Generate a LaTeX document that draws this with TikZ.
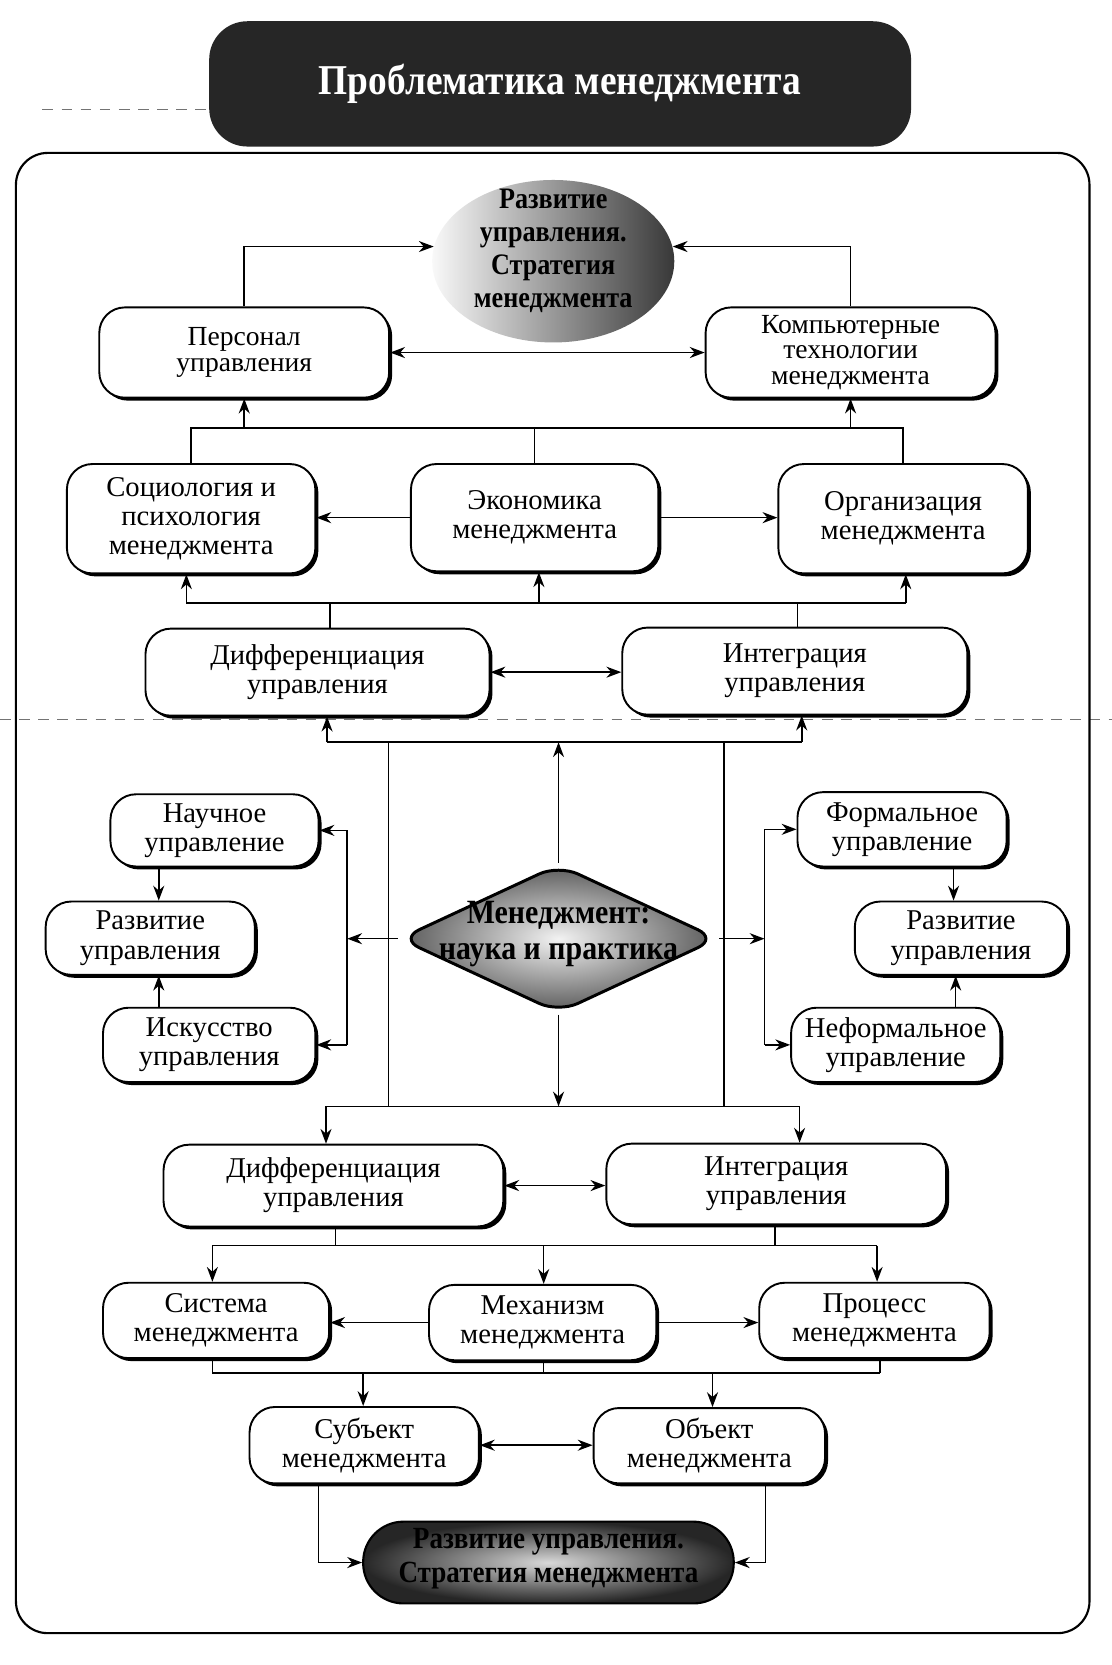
\documentclass[tikz,border=0pt]{standalone}
\usepackage{fontspec}
\setmainfont{Liberation Serif}
\newfontfamily\condfont[FakeStretch=0.88]{Liberation Serif}
\usetikzlibrary{shapes.geometric,shadows,arrows.meta,calc}
\begin{document}
\begin{tikzpicture}[x=0.5pt,y=-0.5pt,
 box/.style={draw, line width=0.9pt, rounded corners=12pt, fill=white, align=center, inner sep=0pt,
   font=\fontsize{13.5}{13.7}\selectfont,
   drop shadow={shadow xshift=1.4pt, shadow yshift=-1.4pt, fill=black, opacity=1}},
 tight/.style={font=\fontsize{13}{12.2}\selectfont},
 ln/.style={line width=0.75pt},
 arr/.style={ln, -{Stealth[length=7pt,width=5.2pt]}},
 darr/.style={ln, {Stealth[length=7pt,width=5.2pt]}-{Stealth[length=7pt,width=5.2pt]}},
 btxt/.style={align=center, inner sep=0pt},
]
\fill[white] (0,0) rectangle (1047,1568);
\useasboundingbox (0,0) rectangle (1047,1568);

% fold lines of the scan
\draw[black!55, line width=0.5pt, dash pattern=on 5pt off 4pt] (0,678) -- (1047,678);
\draw[black!55, line width=0.5pt, dash pattern=on 5pt off 4pt] (40,103) -- (195,103);

% title
\node[fill=black!85, rounded corners=18pt, minimum width=330.5pt, minimum height=59pt, inner sep=0pt,
  text=white, font=\condfont\bfseries\fontsize{20}{22}\selectfont] (title) at (527.5,79) {Проблематика менеджмента};

% frame
\node[draw, line width=1pt, rounded corners=15pt, minimum width=505.5pt, minimum height=697pt, inner sep=0pt] (frame) at (520.5,841) {};

% top ellipse
\node[ellipse, minimum width=114pt, minimum height=76.5pt, inner sep=0pt, left color=gray!5, right color=black!78] (topell) at (521,246) {};
\node[btxt, font=\condfont\bfseries\fontsize{14}{15.5}\selectfont] (toptext) at (521,236) {Развитие\\управления.\\Стратегия\\менеджмента};

% boxes
\node[box, tight, minimum width=136.5pt, minimum height=42.5pt] (pers) at (230,332) {Персонал\\управления};
\node[box, tight, minimum width=136.5pt, minimum height=42.5pt] (comp) at (801,332) {Компьютерные\\технологии\\менеджмента};

\node[box, minimum width=117pt, minimum height=51.5pt] (soc) at (180,488.5) {Социология и\\психология\\менеджмента};
\node[box, minimum width=116.5pt, minimum height=50.5pt] (eco) at (503.5,487.5) {Экономика\\менеджмента};
\node[box, minimum width=117.5pt, minimum height=51.5pt] (org) at (850.5,488.5) {Организация\\менеджмента};

\node[box, minimum width=162pt, minimum height=41pt] (dif1) at (299,633) {Дифференциация\\управления};
\node[box, minimum width=162.5pt, minimum height=41pt] (int1) at (748.5,632) {Интеграция\\управления};

\node[box, minimum width=98pt, minimum height=34pt] (nauch) at (202,782) {Научное\\управление};
\node[box, minimum width=98.5pt, minimum height=34.5pt] (razL) at (141.5,883.5) {Развитие\\управления};
\node[box, minimum width=100pt, minimum height=35pt] (isk) at (197,984) {Искусство\\управления};

\node[box, minimum width=98.5pt, minimum height=35pt] (form) at (849.5,781) {Формальное\\управление};
\node[box, minimum width=100pt, minimum height=34.5pt] (razR) at (905,883.5) {Развитие\\управления};
\node[box, minimum width=98.5pt, minimum height=35pt] (neform) at (843.5,984) {Неформальное\\управление};

\node[diamond, draw, line width=1.4pt, rounded corners=10pt, minimum width=150pt, minimum height=70pt, inner sep=0pt,
  inner color=gray!10, outer color=black!65] (dia) at (526,884) {};
\node[btxt, font=\condfont\bfseries\fontsize{16}{17}\selectfont] (diatext) at (526,880) {Менеджмент:\\наука и практика};

\node[box, minimum width=160pt, minimum height=38.5pt] (dif2) at (314,1116.5) {Дифференциация\\управления};
\node[box, minimum width=160pt, minimum height=38pt] (int2) at (731,1115) {Интеграция\\управления};

\node[box, minimum width=106.5pt, minimum height=35.5pt] (sys) at (203.5,1243.5) {Система\\менеджмента};
\node[box, minimum width=107pt, minimum height=35.5pt] (mech) at (511,1245.5) {Механизм\\менеджмента};
\node[box, minimum width=108.5pt, minimum height=35.5pt] (proc) at (823.5,1243.5) {Процесс\\менеджмента};

\node[box, minimum width=108pt, minimum height=36pt] (subj) at (343,1361) {Субъект\\менеджмента};
\node[box, minimum width=109pt, minimum height=35.5pt] (obj) at (668,1361.5) {Объект\\менеджмента};

\node[draw, line width=1pt, rounded corners=19pt, minimum width=174.5pt, minimum height=38.5pt, inner sep=0pt,
  inner color=gray!30, outer color=black!85] (bot) at (516.5,1471.5) {};
\node[btxt, font=\condfont\bfseries\fontsize{14.5}{16}\selectfont] (bottext) at (516.5,1468) {Развитие управления.\\Стратегия менеджмента};

% ---------- connectors ----------
\draw[arr] (pers.north) |- (topell.173);
\draw[arr] (comp.north) |- (topell.7);
\draw[darr] (pers.east) -- (pers.east -| comp.west);

% bus above row 2
\coordinate (bus1) at (0,403);
\draw[ln] (soc.north) |- (org.north |- bus1) -- (org.north);
\draw[ln] (eco.north) -- (eco.north |- bus1);
\draw[arr] (pers.south |- bus1) -- (pers.south);
\draw[arr] (comp.south |- bus1) -- (comp.south);

\draw[arr] (eco.west) -- (eco.west -| soc.east);
\draw[arr] (eco.east) -- (eco.east -| org.west);

% bus between row 2 and row 3
\coordinate (bus2) at (0,568);
\coordinate (d1t) at ($(dif1.north)+(12,0)$);
\coordinate (i1t) at ($(int1.north)+(2.5,0)$);
\coordinate (s1) at ($(soc.south)+(-4.5,0)$);
\coordinate (e1) at ($(eco.south)+(4,0)$);
\coordinate (o1) at ($(org.south)+(2.5,0)$);
\draw[ln] (d1t) -- (d1t |- bus2);
\draw[ln] (i1t) -- (i1t |- bus2);
\draw[ln] (s1 |- bus2) -- (o1 |- bus2);
\draw[arr] (s1 |- bus2) -- (s1);
\draw[arr] (e1 |- bus2) -- (e1);
\draw[arr] (o1 |- bus2) -- (o1);

\draw[darr] (dif1.east) -- (dif1.east -| int1.west);

% bus below row 3
\coordinate (bus3) at (0,699);
\coordinate (d1b) at ($(dif1.south)+(9,0)$);
\coordinate (i1b) at ($(int1.south)+(6.5,0)$);
\draw[ln] (d1b |- bus3) -- (i1b |- bus3);
\draw[arr] (d1b |- bus3) -- (d1b);
\draw[arr] (i1b |- bus3) -- (i1b);
\draw[arr] (dia.north) -- (dia.north |- bus3);

% bus above row 4
\coordinate (bus4) at (0,1042);
\coordinate (v1) at (366,0);
\coordinate (v2) at (682,0);
\draw[ln] (v1 |- bus3) -- (v1 |- bus4);
\draw[ln] (v2 |- bus3) -- (v2 |- bus4);
\coordinate (d2t) at ($(dif2.north)+(-7,0)$);
\coordinate (i2t) at ($(int2.north)+(22,0)$);
\draw[ln] (d2t |- bus4) -- (i2t |- bus4);
\draw[arr] (d2t |- bus4) -- (d2t);
\draw[arr] (i2t |- bus4) -- (i2t);
\draw[arr] (dia.south) -- (dia.south |- bus4);

% left column
\coordinate (lx) at (327,0);
\draw[ln] (nauch.east -| lx) -- (isk.east -| lx);
\draw[arr] (nauch.east -| lx) -- (nauch.east);
\draw[arr] (isk.east -| lx) -- (isk.east);
\draw[arr] (dia.west) -- (dia.west -| lx);
\coordinate (a1) at ($(razL.north)+(8,0)$);
\coordinate (a2) at ($(razL.south)+(8,0)$);
\draw[arr] (a1 |- nauch.south) -- (a1);
\draw[arr] (a2 |- isk.north) -- (a2);

% right column
\coordinate (rx) at (720,0);
\draw[ln] (form.west -| rx) -- (neform.west -| rx);
\draw[arr] (form.west -| rx) -- (form.west);
\draw[arr] (neform.west -| rx) -- (neform.west);
\draw[arr] (dia.east) -- (dia.east -| rx);
\coordinate (b1) at ($(razR.north)+(-7,0)$);
\coordinate (b2) at ($(razR.south)+(-5,0)$);
\draw[arr] (b1 |- form.south) -- (b1);
\draw[arr] (b2 |- neform.north) -- (b2);

\draw[darr] (dif2.east) -- (dif2.east -| int2.west);

% bus below row 4
\coordinate (bus5) at (0,1173);
\coordinate (d2b) at ($(dif2.south)+(2,0)$);
\coordinate (i2b) at ($(int2.south)+(-1,0)$);
\coordinate (sy1) at ($(sys.north)+(-3.5,0)$);
\coordinate (me1) at ($(mech.north)+(1,0)$);
\coordinate (pr1) at ($(proc.north)+(2.5,0)$);
\draw[ln] (d2b) -- (d2b |- bus5);
\draw[ln] (i2b) -- (i2b |- bus5);
\draw[ln] (sy1 |- bus5) -- (pr1 |- bus5);
\draw[arr] (sy1 |- bus5) -- (sy1);
\draw[arr] (me1 |- bus5) -- (me1);
\draw[arr] (pr1 |- bus5) -- (pr1);

\draw[arr] (mech.west) -- (mech.west -| sys.east);
\draw[arr] (mech.east) -- (mech.east -| proc.west);

% bus below row 5
\coordinate (bus6) at (0,1293);
\coordinate (sy2) at ($(sys.south)+(-3.5,0)$);
\coordinate (me2) at ($(mech.south)+(1,0)$);
\coordinate (pr2) at ($(proc.south)+(5.5,0)$);
\coordinate (su1) at ($(subj.north)+(-1,0)$);
\coordinate (ob1) at ($(obj.north)+(3,0)$);
\draw[ln] (sy2) -- (sy2 |- bus6);
\draw[ln] (me2) -- (me2 |- bus6);
\draw[ln] (pr2) -- (pr2 |- bus6);
\draw[ln] (sy2 |- bus6) -- (pr2 |- bus6);
\draw[arr] (su1 |- bus6) -- (su1);
\draw[arr] (ob1 |- bus6) -- (ob1);

\draw[darr] (subj.east) -- (subj.east -| obj.west);

% to bottom stadium
\coordinate (su2) at ($(subj.south)+(-43,0)$);
\coordinate (ob2) at ($(obj.south)+(53,0)$);
\draw[arr] (su2) |- (bot.west);
\draw[arr] (ob2) |- (bot.east);
\end{tikzpicture}
\end{document}
